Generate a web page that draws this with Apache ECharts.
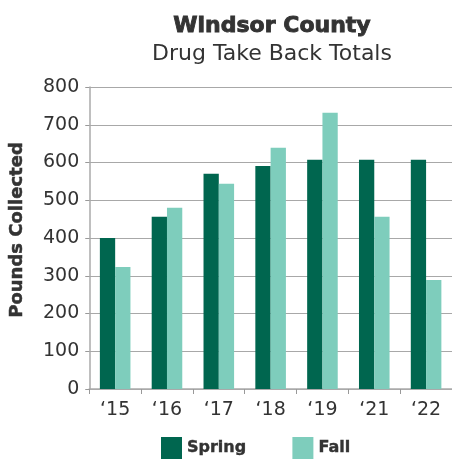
<!DOCTYPE html>
<html>
<head>
<meta charset="utf-8">
<script src="https://cdn.jsdelivr.net/npm/echarts@6/dist/echarts.min.js"></script>
<style>html,body{margin:0;padding:0;background:#fff}#c{width:452px;height:460px}</style>
</head>
<body>
<div id="c"></div>
<script>
const categories = ['\u201815', '\u201816', '\u201817', '\u201818', '\u201819', '\u201821', '\u201822'];
const spring = [400, 456, 570, 591, 607, 607, 607];
const fall = [323, 480, 544, 639, 732, 456, 289];
const yTicks = [0, 100, 200, 300, 400, 500, 600, 700, 800];

const chart = echarts.init(document.getElementById('c'));
const font = '"DejaVu Sans", sans-serif';
chart.setOption({
  animation: false,
  title: [
    { text: 'Windsor County', left: 267, top: 10, textAlign: 'center',
      textStyle: { fontFamily: font, fontWeight: 'bold', fontSize: 22, color: '#333',
        textBorderColor: '#333', textBorderWidth: 0.9 } },
    { text: 'Drug Take Back Totals', left: 267, top: 38, textAlign: 'center',
      textStyle: { fontFamily: font, fontWeight: 'normal', fontSize: 22, color: '#333' } }
  ],
  legend: {
    left: 161, top: 437, padding: 0, icon: 'rect', itemWidth: 21, itemHeight: 22, itemGap: 46,
    textStyle: { fontFamily: font, fontWeight: 'bold', fontSize: 16, color: '#333',
      textBorderColor: '#333', textBorderWidth: 0.4 },
    data: ['Spring', 'Fall']
  },
  grid: { left: 88, top: 87, bottom: 71, right: -7, containLabel: false },
  xAxis: {
    type: 'category', data: categories,
    axisLine: { lineStyle: { color: '#aaa', width: 1.5 } },
    axisTick: { show: true, length: 5, lineStyle: { color: '#999' } },
    axisLabel: { fontFamily: font, fontSize: 19, color: '#333', margin: 12 }
  },
  yAxis: {
    type: 'value', min: 0, max: 800, interval: 100,
    name: 'Pounds Collected', nameLocation: 'middle', nameGap: 63, nameRotate: 90,
    nameTextStyle: { fontFamily: font, fontWeight: 'bold', fontSize: 18, color: '#333',
      textBorderColor: '#333', textBorderWidth: 0.5, padding: [0, 0, 0, 16] },
    axisLine: { show: true, lineStyle: { color: '#aaa', width: 1.5 } },
    axisTick: { show: true, length: 4, lineStyle: { color: '#999' } },
    axisLabel: { fontFamily: font, fontSize: 19, color: '#333', margin: 10,
      formatter: v => yTicks.includes(v) ? String(v) : '' },
    splitLine: { lineStyle: { color: '#a8a8a8', width: 1.2 } }
  },
  series: [
    { name: 'Spring', type: 'bar', data: spring, barGap: '0%', barCategoryGap: '41%',
      itemStyle: { color: '#00664F' } },
    { name: 'Fall', type: 'bar', data: fall,
      itemStyle: { color: '#7ECDBC' } }
  ]
});
</script>
</body>
</html>
